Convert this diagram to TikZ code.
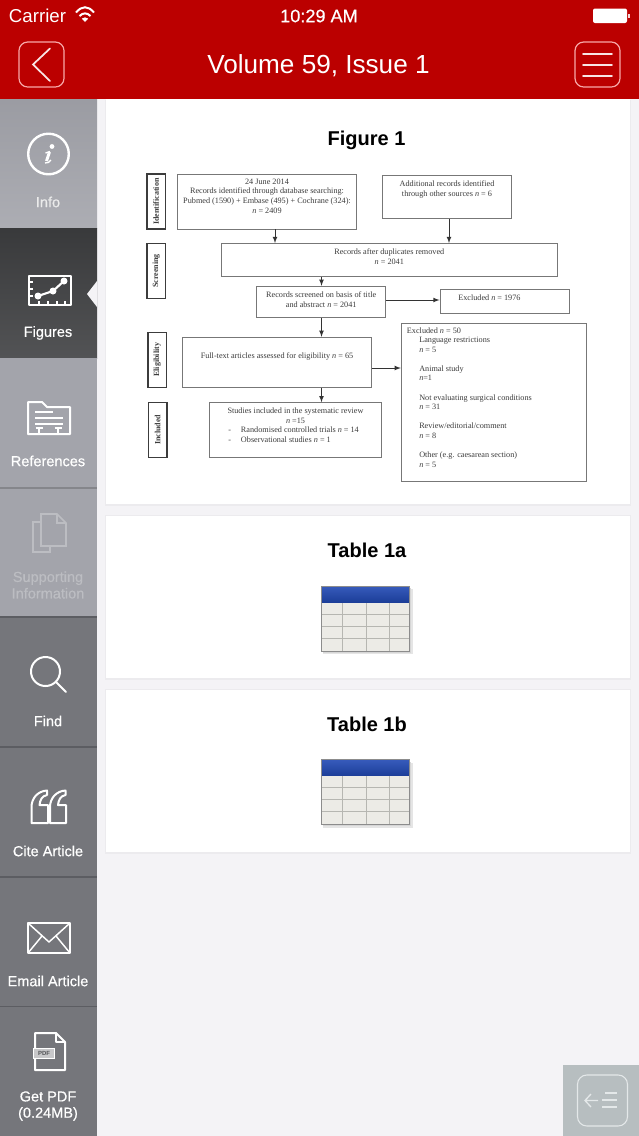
\documentclass[tikz,border=0pt]{standalone}
\usepackage{fontspec}
\setmainfont{Liberation Serif}
\setsansfont{Liberation Sans}
\newfontfamily\sidefont[FakeBold=0.5]{Liberation Sans}
\usetikzlibrary{positioning}
\definecolor{appred}{HTML}{BB0000}
\definecolor{btnline}{HTML}{F7A8A8}
\definecolor{pagebg}{HTML}{F4F3F6}
\definecolor{cardedge}{HTML}{ECEBEE}
\definecolor{sidelight}{HTML}{A3A4AB}
\definecolor{sidedark}{HTML}{75767B}
\definecolor{sideblack}{HTML}{3F4042}
\definecolor{sepdark}{HTML}{5C5D62}
\definecolor{seplight}{HTML}{85868B}
\definecolor{faded}{HTML}{BCBDC2}
\definecolor{boxgray}{HTML}{777777}
\definecolor{inkgray}{HTML}{3C3C3C}
\definecolor{tabblue}{HTML}{2149B4}
\definecolor{tabcell}{HTML}{ECEBE6}
\definecolor{tabgrid}{HTML}{B6B6B1}
\definecolor{cornerbg}{HTML}{B7BEC0}
\definecolor{cornerline}{HTML}{E4E8E9}
\tikzset{
  flowbox/.style 2 args={draw=boxgray,line width=.7pt,fill=white,inner sep=0pt,minimum width=#1*.75pt,minimum height=#2*.75pt},
  sidebox/.style={draw=inkgray,line width=.9pt,fill=white,rotate=90,inner sep=0pt,minimum width=55*.75pt,minimum height=18.5*.75pt,text=inkgray,font=\fontsize{6}{7}\selectfont\bfseries},
  flowtext/.style={inner sep=0pt,text=inkgray,align=center,font=\fontsize{6.15}{7.2}\selectfont},
  flowlist/.style={flowtext,align=left,anchor=north west},
  flowarrow/.style={->,>=latex,line width=.6pt,draw=black!80},
  tabtitle/.style={inner sep=0pt,font=\sffamily\bfseries\fontsize{15}{18}\selectfont},
  sidetext/.style={inner sep=0pt,text=white,align=center,font=\sidefont\fontsize{10.9}{12}\selectfont},
  sideicon/.style={draw=white,line width=1.5pt,line join=round},
  hdrbtn/.style={draw=btnline,line width=.9pt,rounded corners=6.5pt},
  hdrline/.style={draw=white!90!appred,line width=1.3pt,line cap=round}
}
\begin{document}
\begin{tikzpicture}[x=.75pt,y=-.75pt]
\useasboundingbox (0,0) rectangle (639,1136);
\fill[pagebg] (0,0) rectangle (639,1136);

% cards
\fill[cardedge] (105,100) rectangle (631,506);
\fill[white] (106,99) rectangle (630,504);
\fill[cardedge] (105,515) rectangle (631,680);
\fill[white] (106,516) rectangle (630,678);
\fill[cardedge] (105,689) rectangle (631,854);
\fill[white] (106,690) rectangle (630,852);

% header
\fill[appred] (0,0) rectangle (639,99);
\node[inner sep=0pt,text=white,font=\sffamily\fontsize{14}{16}\selectfont] (carrier) at (37.5,16) {Carrier};
\node[inner sep=0pt,text=white,font=\sidefont\fontsize{13.6}{16}\selectfont] (clock) at (319,16) {10:29 AM};
\draw[white,line width=1.5pt] (76,12.5) .. controls (82,5.5) and (88,5.5) .. (94,12.5);
\draw[white,line width=1.5pt] (79.5,16) .. controls (83,12.5) and (87,12.5) .. (90.5,16);
\fill[white] (85,22) -- (81.8,18.6) .. controls (83.5,17) and (86.5,17) .. (88.2,18.6) -- cycle;
\fill[white,rounded corners=1.5pt] (593,8.5) rectangle (627,23);
\fill[white!85!appred] (628,14) rectangle (630,18);
\node[inner sep=0pt,text=white,font=\sffamily\fontsize{19.6}{22}\selectfont] (voltitle) at (318.5,66) {Volume 59, Issue 1};
\draw[hdrbtn] (19,42) rectangle (64,87);
\draw[hdrline] (50,48.5) -- (33,64.5) -- (50,81);
\draw[hdrbtn] (575,42) rectangle (620,87);
\draw[hdrline] (583,54) -- (612,54);
\draw[hdrline] (583,65) -- (612,65);
\draw[hdrline] (583,76) -- (612,76);

% sidebar
\shade[top color=sidelight!95!black,bottom color=sidelight!90!white] (0,99) rectangle (97,228);
\shade[top color=sideblack!90!black,bottom color=sideblack!90!white] (0,228) rectangle (97,358);
\fill[sidelight] (0,358) rectangle (97,617);
\fill[sidedark] (0,617) rectangle (97,1136);
\fill[seplight] (0,487) rectangle (97,488.5);
\fill[sepdark] (0,616) rectangle (97,617.5);
\fill[sepdark] (0,746) rectangle (97,747.5);
\fill[sepdark] (0,876) rectangle (97,877.5);
\fill[sepdark] (0,1005.5) rectangle (97,1007);
\fill[pagebg] (87,294) -- (97,281) -- (97,307) -- cycle;

% info
\draw[sideicon,line width=1.8pt] (48.5,154) circle (20.3);
\fill[white] (52,146.5) circle (2.4);
\draw[white,line width=2.2pt] (49.5,152) -- (46.5,161);
\draw[white,line width=1pt] (45.5,153) -- (50,151.5) (45,163) .. controls (47,163.5) and (50,162) .. (51,160);
\node[sidetext,text=white!92!black] (infolabel) at (48,202) {Info};

% figures
\draw[sideicon] (29,275.5) rectangle (70.5,304.5);
\draw[sideicon,line width=1pt] (29,282) -- (33,282) (29,289) -- (33,289) (29,296) -- (33,296);
\draw[sideicon,line width=1pt] (39,304.5) -- (39,301) (48,304.5) -- (48,301) (57,304.5) -- (57,301) (65,304.5) -- (65,301);
\draw[sideicon,line width=1.6pt] (38,296) -- (53,291) -- (64,281);
\fill[white] (38,296) circle (3.5) (53,291) circle (3.5) (64,281) circle (3.5);
\node[sidetext] (figlabel) at (48,333) {Figures};

% references
\draw[sideicon] (28,434) -- (28,402) -- (42,402) -- (47,407) -- (70,407) -- (70,434) -- cycle;
\draw[sideicon,line width=1pt] (35,412) -- (53,412) (35,418) -- (63,418) (35,424) -- (63,424);
\draw[sideicon,line width=1pt] (35.5,428) -- (42.5,428) (39,428) -- (39,434) (54.5,428) -- (61.5,428) (58,428) -- (58,434);
\node[sidetext] (reflabel) at (48,461) {References};

% supporting information
\draw[faded,line width=1.3pt] (41,522) -- (33,522) -- (33,552) -- (50,552) -- (50,546);
\draw[faded,line width=1.3pt] (41,514) -- (57,514) -- (66,523) -- (66,546) -- (41,546) -- cycle;
\draw[faded,line width=1pt] (57,514) -- (57,523) -- (66,523);
\node[sidetext,text=faded] (supportlabel) at (48,585) {Supporting\\[.4pt]Information};

% find
\draw[sideicon] (45.5,671.5) circle (14.5);
\draw[sideicon,line cap=round] (56,682) -- (66,692);
\node[sidetext] (findlabel) at (48,721) {Find};

% cite
\draw[sideicon] (31.5,823) -- (31.5,807) .. controls (31.5,798) and (38,791) .. (47,790.5) -- (47,795) .. controls (42,796) and (40,800) .. (39.5,805) -- (48,805) -- (48,823) -- cycle;
\draw[sideicon] (50,823) -- (50,807) .. controls (50,798) and (56.5,791) .. (65.5,790.5) -- (65.5,795) .. controls (60.5,796) and (58.5,800) .. (58,805) -- (66,805) -- (66,823) -- cycle;
\node[sidetext] (citelabel) at (48,851) {Cite Article};

% email
\draw[sideicon] (28,923) rectangle (70,953);
\draw[sideicon,line width=1.1pt] (28,923) -- (49,942) -- (70,923);
\draw[sideicon,line width=1.1pt] (28,953) -- (42,936) (70,953) -- (56,936);
\node[sidetext] (maillabel) at (48,981) {Email Article};

% pdf
\draw[sideicon] (35,1048) -- (35,1033) -- (56,1033) -- (65,1042) -- (65,1070) -- (35,1070) -- (35,1059);
\draw[sideicon,line width=1pt] (56,1033) -- (56,1042) -- (65,1042);
\node[draw=white,line width=.9pt,fill=sidedark!40!white,inner sep=0pt,minimum width=16pt,minimum height=7.5pt,text=sidedark!70!black,font=\sffamily\bfseries\fontsize{4.5}{5}\selectfont] (pdftag) at (44,1053.5) {PDF};
\node[sidetext] (pdflabel) at (48,1106) {Get PDF\\[.2pt](0.24MB)};

% figure 1
\node[tabtitle] (figtitle) at (366.5,140) {Figure 1};

\node[sidebox] (identification) at (156.2,201.5) {Identification};
\node[sidebox] (screening) at (156.2,271) {Screening};
\node[sidebox] (eligibility) at (157.2,359.7) {Eligibility};
\node[sidebox] (included) at (157.7,429.8) {Included};

\node[flowbox={179.4}{55}] (records) at (267,201.5) {};
\node[flowbox={128.6}{43.3}] (additional) at (447,197.3) {};
\node[flowbox={336}{33.2}] (duplicates) at (389.3,260.1) {};
\node[flowbox={129}{31.4}] (screened) at (321.2,302) {};
\node[flowbox={129}{23.7}] (excludedA) at (504.5,301.8) {};
\node[flowbox={189.4}{50}] (fulltext) at (277,362.3) {};
\node[flowbox={171.6}{55}] (studies) at (295.5,430.2) {};
\node[flowbox={185}{158.4}] (excludedB) at (493.8,402.5) {};

\coordinate (recordsx) at (275,0);
\coordinate (additionalx) at (449,0);
\coordinate (mainx) at (321.5,0);
\coordinate (sidey) at (0,300);
\coordinate (fully) at (0,368);

\draw[flowarrow] (recordsx |- records.south) -- (recordsx |- duplicates.north);
\draw[flowarrow] (additionalx |- additional.south) -- (additionalx |- duplicates.north);
\draw[flowarrow] (mainx |- duplicates.south) -- (mainx |- screened.north);
\draw[flowarrow] (mainx |- screened.south) -- (mainx |- fulltext.north);
\draw[flowarrow] (mainx |- fulltext.south) -- (mainx |- studies.north);
\draw[flowarrow] (screened.east |- sidey) -- (excludedA.west |- sidey);
\draw[flowarrow] (fulltext.east |- fully) -- (excludedB.west |- fully);

\node[flowtext,anchor=north] (recordstext) at (267,178.5) {24 June 2014\\Records identified through database searching:\\Pubmed (1590) + Embase (495) + Cochrane (324):\\\textit{n} = 2409};
\node[flowtext,anchor=north] (additionaltext) at (447,180.5) {Additional records identified\\through other sources \textit{n} = 6};
\node[flowtext,anchor=north] (duplicatestext) at (389.3,248.5) {Records after duplicates removed\\\textit{n} = 2041};
\node[flowtext,anchor=north] (screenedtext) at (321.2,291.5) {Records screened on basis of title\\and abstract \textit{n} = 2041};
\node[flowtext,anchor=north west] (excludedAtext) at (458,294.2) {Excluded \textit{n} = 1976};
\node[flowtext,anchor=north] (fulltexttext) at (277,352.5) {Full-text articles assessed for eligibility \textit{n} = 65};
\node[flowtext,anchor=north] (studiestext) at (295.5,407.7) {Studies included in the systematic review\\\textit{n} =15};
\node[flowlist] (studieslist) at (228,426.7) {-\hspace{7.5pt}Randomised controlled trials \textit{n} = 14\\-\hspace{7.5pt}Observational studies \textit{n} = 1};
\node[flowlist] (excludedBhead) at (406.7,327.5) {Excluded \textit{n} = 50};
\node[flowlist] (excludedBlist) at (419,336.8) {Language restrictions\\\textit{n} = 5\\[7.2pt]Animal study\\\textit{n}=1\\[7.2pt]Not evaluating surgical conditions\\\textit{n} = 31\\[7.2pt]Review/editorial/comment\\\textit{n} = 8\\[7.2pt]Other (e.g. caesarean section)\\\textit{n} = 5};

% tables
\foreach \rowy/\rowname/\rowlabel in {0/tableA/Table 1a,173.5/tableB/Table 1b}{
  \node[tabtitle] (\rowname) at (367,550.5+\rowy) {\rowlabel};
  \fill[black!10] (323,589+\rowy) rectangle (412.5,654+\rowy);
  \fill[black!16] (322.5,588+\rowy) rectangle (411,652.5+\rowy);
  \fill[tabcell] (321,586+\rowy) rectangle (409.5,651+\rowy);
  \foreach \gx in {342,366,389}
    \draw[tabgrid,line width=.6pt] (\gx,602+\rowy) -- (\gx,651+\rowy);
  \foreach \gy in {614,626,638}
    \draw[tabgrid,line width=.6pt] (321,\gy+\rowy) -- (409.5,\gy+\rowy);
  \shade[top color=tabblue!90!white,bottom color=tabblue!85!black] (321,586+\rowy) rectangle (409.5,602+\rowy);
  \draw[black!45,line width=.7pt] (321,586+\rowy) rectangle (409.5,651+\rowy);
}

% corner button
\fill[cornerbg] (563,1065) rectangle (639,1136);
\draw[cornerline,line width=.8pt,rounded corners=7pt] (577.5,1075) rectangle (627.5,1126);
\draw[cornerline,line width=1pt] (591,1094) -- (585,1100.5) -- (591,1107) (585,1100.5) -- (598,1100.5);
\draw[cornerline,line width=.9pt] (605,1093) -- (617,1093) (602,1100) -- (617,1100) (602,1107) -- (617,1107);
\end{tikzpicture}
\end{document}
